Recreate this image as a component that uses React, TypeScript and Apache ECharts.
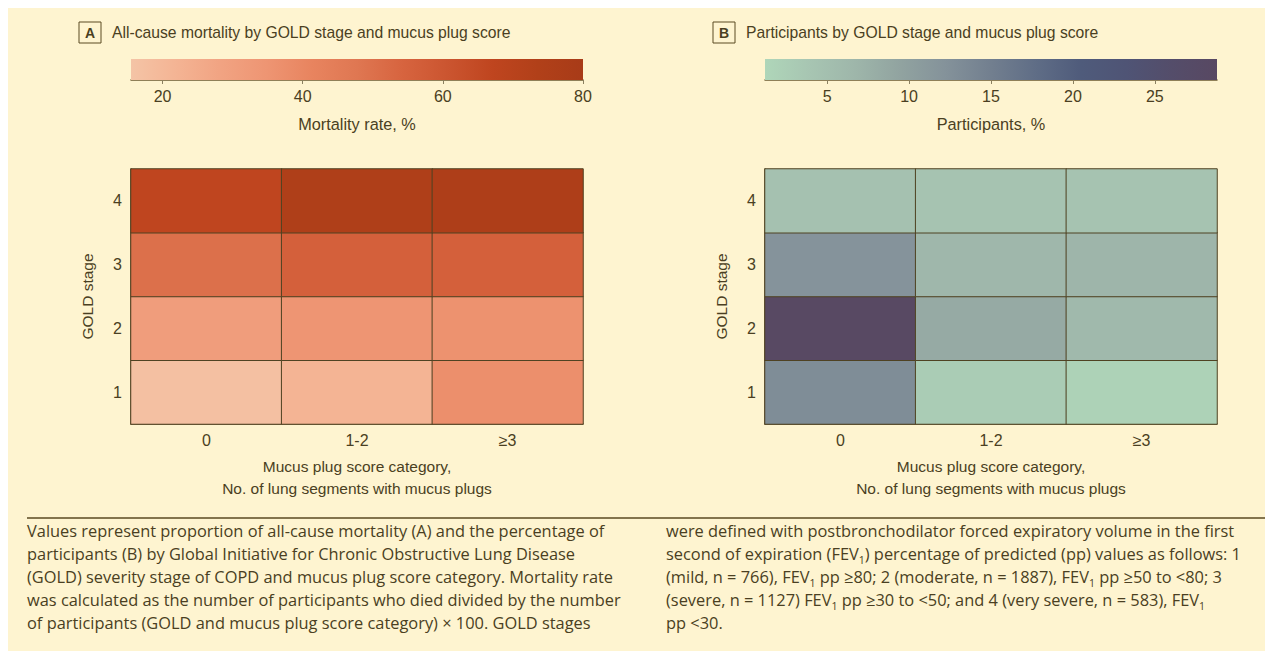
import React, { useEffect, useRef } from 'react';
import * as echarts from 'echarts';

// ---- data ----
const mucusCategories = ['0', '1-2', '≥3'];
const goldStages = ['1', '2', '3', '4'];

// Mortality rate, % (rows = GOLD stage, columns = mucus plug category)
const mortalityStage1 = [17, 22, 37];
const mortalityStage2 = [31, 35, 36];
const mortalityStage3 = [50, 56, 56];
const mortalityStage4 = [67, 75, 76];

// Participants, %
const participantsStage1 = [13, 2.8, 1.8];
const participantsStage2 = [28.5, 8.5, 6.2];
const participantsStage3 = [12, 6.5, 6.8];
const participantsStage4 = [4.7, 4.4, 4.3];

const mortalityRange = [15.5, 80];
const participantsRange = [1.2, 28.8];
const mortalityTicks = [20, 40, 60, 80];
const participantsTicks = [5, 10, 15, 20, 25];

const mortalityPalette = ['#f4c4a6', '#f4b494', '#f1a382', '#ee9573', '#e8845f', '#df7752', '#d7643f', '#cb5530', '#bf451f', '#b14019', '#a83b18'];
const participantsPalette = ['#afd6b9', '#a7c5b2', '#9eb6aa', '#91a3a0', '#84929a', '#727f8f', '#5f6d86', '#4f5b7b', '#4f5475', '#544d6a', '#584862'];

const captionLeft = [
  'Values represent proportion of all-cause mortality (A) and the percentage of',
  'participants (B) by Global Initiative for Chronic Obstructive Lung Disease',
  '(GOLD) severity stage of COPD and mucus plug score category. Mortality rate',
  'was calculated as the number of participants who died divided by the number',
  'of participants (GOLD and mucus plug score category) × 100. GOLD stages',
];
const captionRight = [
  'were defined with postbronchodilator forced expiratory volume in the first',
  'second of expiration (FEV{sub|1}) percentage of predicted (pp) values as follows: 1',
  '(mild, n = 766), FEV{sub|1} pp ≥80; 2 (moderate, n = 1887), FEV{sub|1} pp ≥50 to <80; 3',
  '(severe, n = 1127) FEV{sub|1} pp ≥30 to <50; and 4 (very severe, n = 583), FEV{sub|1}',
  'pp <30.',
];

const FONT = "'Liberation Sans', Arial, sans-serif";
const CAPFONT = "'Open Sans', 'Noto Sans', sans-serif";
const TEXT = '#4a3f22';
const LINE = '#5a4a22';
const BG = '#fef4d0';

function toCells(rows: number[][]) {
  const out: number[][] = [];
  rows.forEach((row, y) => row.forEach((v, x) => out.push([x, y, v])));
  return out;
}

function stops(palette: string[]) {
  return palette.map((c, i) => ({ offset: i / (palette.length - 1), color: c }));
}

export default function App() {
  const ref = useRef<HTMLDivElement>(null);
  useEffect(() => {
    if (!ref.current) return;
    const chart = echarts.init(ref.current, undefined, { renderer: 'svg' });

    const mortalityCells = toCells([mortalityStage1, mortalityStage2, mortalityStage3, mortalityStage4]);
    const participantsCells = toCells([participantsStage1, participantsStage2, participantsStage3, participantsStage4]);

    const heatX = (gridIndex: number) => ({
      type: 'category',
      gridIndex,
      data: mucusCategories,
      axisLine: { lineStyle: { color: LINE, width: 1.5 } },
      axisTick: { alignWithLabel: true, length: 5, lineStyle: { color: LINE } },
      axisLabel: { color: TEXT, fontSize: 16, fontFamily: FONT, margin: 8 },
      splitLine: { show: false },
      name: 'Mucus plug score category,\nNo. of lung segments with mucus plugs',
      nameLocation: 'middle',
      nameGap: 31,
      nameTextStyle: { color: TEXT, fontSize: 15.5, fontFamily: FONT, lineHeight: 22 },
    });
    const heatY = (gridIndex: number) => ({
      type: 'category',
      gridIndex,
      data: goldStages,
      axisLine: { lineStyle: { color: LINE, width: 1.5 } },
      axisTick: { alignWithLabel: true, length: 5, lineStyle: { color: LINE } },
      axisLabel: { color: TEXT, fontSize: 16, fontFamily: FONT, margin: 9 },
      splitLine: { show: false },
      name: 'GOLD stage',
      nameLocation: 'middle',
      nameRotate: 90,
      nameGap: 36,
      nameTextStyle: { color: TEXT, fontSize: 15.5, fontFamily: FONT },
    });
    const cbX = (gridIndex: number, range: number[], ticks: number[], name: string) => ({
      type: 'value',
      gridIndex,
      min: range[0],
      max: range[1],
      splitLine: { show: false },
      axisLine: { show: true, onZero: false, lineStyle: { color: '#6b5a30', width: 1.5 } },
      axisTick: { show: true, customValues: ticks, length: 4, lineStyle: { color: '#8a8060' } },
      axisLabel: { customValues: ticks, color: TEXT, fontSize: 16, fontFamily: FONT, margin: 8 },
      name,
      nameLocation: 'middle',
      nameGap: 36,
      nameTextStyle: { color: TEXT, fontSize: 16.3, fontFamily: FONT },
    });
    const cbY = (gridIndex: number) => ({ type: 'value', gridIndex, min: 0, max: 1, show: false });

    const colorbar = (idx: number, range: number[], palette: string[]) => ({
      type: 'custom',
      xAxisIndex: idx,
      yAxisIndex: idx,
      data: [[range[0], range[1]]],
      silent: true,
      renderItem: (_p: any, api: any) => {
        const p0 = api.coord([api.value(0), 1]);
        const p1 = api.coord([api.value(1), 0]);
        return {
          type: 'rect',
          shape: { x: p0[0], y: p0[1], width: p1[0] - p0[0], height: p1[1] - p0[1] },
          style: { fill: new echarts.graphic.LinearGradient(0, 0, 1, 0, stops(palette)) },
        };
      },
    });

    const heatSeries = (idx: number, data: number[][]) => ({
      type: 'heatmap',
      xAxisIndex: idx,
      yAxisIndex: idx,
      data,
      itemStyle: { borderColor: '#4f4222', borderWidth: 1 },
      label: { show: false },
      emphasis: { disabled: true },
    });

    const caption = (x: number, lines: string[]) => ({
      type: 'text',
      x,
      y: 511,
      style: {
        text: lines.join('\n'),
        fill: TEXT,
        fontSize: 16.4,
        fontFamily: CAPFONT,
        lineHeight: 23,
        verticalAlign: 'top',
        rich: {
          sub: { fontSize: 10.5, fontFamily: CAPFONT, fill: TEXT, verticalAlign: 'bottom' },
        },
      },
    });

    const labelBox = (x: number, letter: string, title: string) => [
      { type: 'rect', shape: { x, y: 14, width: 22, height: 21 }, style: { fill: 'none', stroke: LINE, lineWidth: 1 } },
      { type: 'text', x: x + 11, y: 25, style: { text: letter, fill: TEXT, fontSize: 14, fontWeight: 'bold', fontFamily: FONT, align: 'center', verticalAlign: 'middle' } },
      { type: 'text', x: x + 33, y: 24, style: { text: title, fill: TEXT, fontSize: 15.7, fontFamily: FONT, verticalAlign: 'middle' } },
    ];

    chart.setOption({
      animation: false,
      backgroundColor: BG,
      grid: [
        { left: 123, top: 161, width: 452, height: 255 },
        { left: 757, top: 161, width: 452, height: 255 },
        { left: 123, top: 51, width: 452, height: 21 },
        { left: 757, top: 51, width: 452, height: 21 },
      ],
      xAxis: [
        heatX(0),
        heatX(1),
        cbX(2, mortalityRange, mortalityTicks, 'Mortality rate, %'),
        cbX(3, participantsRange, participantsTicks, 'Participants, %'),
      ],
      yAxis: [heatY(0), heatY(1), cbY(2), cbY(3)],
      visualMap: [
        { type: 'continuous', show: false, seriesIndex: 0, dimension: 2, min: mortalityRange[0], max: mortalityRange[1], inRange: { color: mortalityPalette } },
        { type: 'continuous', show: false, seriesIndex: 1, dimension: 2, min: participantsRange[0], max: participantsRange[1], inRange: { color: participantsPalette } },
      ],
      series: [
        heatSeries(0, mortalityCells),
        heatSeries(1, participantsCells),
        colorbar(2, mortalityRange, mortalityPalette),
        colorbar(3, participantsRange, participantsPalette),
      ],
      graphic: [
        ...labelBox(71, 'A', 'All-cause mortality by GOLD stage and mucus plug score'),
        ...labelBox(705, 'B', 'Participants by GOLD stage and mucus plug score'),
        { type: 'line', shape: { x1: 19, y1: 510, x2: 1265, y2: 510 }, style: { stroke: LINE, lineWidth: 1.5 } },
        caption(19, captionLeft),
        caption(658, captionRight),
      ],
    });
    return () => chart.dispose();
  }, []);
  return <div ref={ref} style={{ width: 1265, height: 643, background: BG }} />;
}
